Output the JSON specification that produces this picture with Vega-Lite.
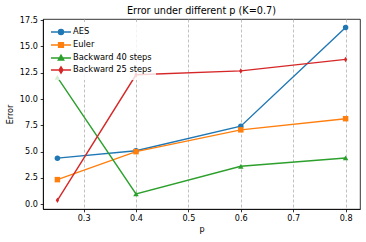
{
  "$schema": "https://vega.github.io/schema/vega-lite/v6.json",
  "autosize": "none",
  "padding": {"left": 43, "top": 19, "right": 6, "bottom": 33},
  "width": 317,
  "height": 190,
  "title": {"text": "Error under different p (K=0.7)", "fontSize": 9.7, "font": "DejaVu Sans", "fontWeight": "normal", "color": "black", "offset": 0, "frame": "group"},
  "data": {"values": [
    {"p": 0.25, "error": 4.38, "method": "AES"},
    {"p": 0.4, "error": 5.08, "method": "AES"},
    {"p": 0.6, "error": 7.42, "method": "AES"},
    {"p": 0.8, "error": 16.8, "method": "AES"},
    {"p": 0.25, "error": 2.34, "method": "Euler"},
    {"p": 0.4, "error": 5.0, "method": "Euler"},
    {"p": 0.6, "error": 7.07, "method": "Euler"},
    {"p": 0.8, "error": 8.13, "method": "Euler"},
    {"p": 0.25, "error": 12.05, "method": "Backward 40 steps"},
    {"p": 0.4, "error": 0.98, "method": "Backward 40 steps"},
    {"p": 0.6, "error": 3.61, "method": "Backward 40 steps"},
    {"p": 0.8, "error": 4.4, "method": "Backward 40 steps"},
    {"p": 0.25, "error": 0.38, "method": "Backward 25 steps"},
    {"p": 0.4, "error": 12.3, "method": "Backward 25 steps"},
    {"p": 0.6, "error": 12.67, "method": "Backward 25 steps"},
    {"p": 0.8, "error": 13.76, "method": "Backward 25 steps"}
  ]},
  "encoding": {
    "x": {"field": "p", "type": "quantitative", "title": "p",
      "scale": {"domain": [0.2225, 0.8275], "nice": false, "zero": false},
      "axis": {"values": [0.3, 0.4, 0.5, 0.6, 0.7, 0.8], "format": ".1f", "grid": true, "gridDash": [3, 2], "gridColor": "#b0b0b0", "gridWidth": 0.8, "titlePadding": 3}},
    "y": {"field": "error", "type": "quantitative", "title": "Error",
      "scale": {"domain": [-0.45, 17.6], "nice": false, "zero": false},
      "axis": {"values": [0, 2.5, 5, 7.5, 10, 12.5, 15, 17.5], "format": ".1f", "grid": false, "titlePadding": 5}}
  },
  "layer": [
    {"mark": {"type": "line", "strokeWidth": 1.4},
     "encoding": {
       "color": {"field": "method", "type": "nominal", "title": null,
         "scale": {"domain": ["AES", "Euler", "Backward 40 steps", "Backward 25 steps"], "range": ["#1f77b4", "#ff7f0e", "#2ca02c", "#d62728"]},
         "legend": {
           "orient": "top-left", "offset": 3, "padding": 4, "title": null,
           "fillColor": "rgba(255,255,255,0.8)", "cornerRadius": 2,
           "labelFont": "DejaVu Sans", "labelFontSize": 8.3, "labelColor": "black", "labelOffset": 11, "rowPadding": 1,
           "symbolSize": 100,
           "encode": {"symbols": {"update": {
             "shape": {"signal": "datum.value === 'AES' ? 'M-1,0H3M1.5,0A0.5,0.5,0,1,1,0.5,0A0.5,0.5,0,1,1,1.5,0Z' : datum.value === 'Euler' ? 'M-1,0H3M0.52,-0.48H1.48V0.48H0.52Z' : datum.value === 'Backward 40 steps' ? 'M-1,0H3M1,-0.56L1.54,0.4H0.46Z' : 'M-1,0H3M1,-0.64L1.38,0L1,0.64L0.62,0Z'"},
             "size": {"value": 100},
             "strokeWidth": {"value": 1.4},
             "fill": {"scale": "color", "field": "value"},
             "stroke": {"scale": "color", "field": "value"},
             "fillOpacity": {"value": 1},
             "strokeOpacity": {"value": 1},
             "opacity": {"value": 1}
           }}}
         }}
     }},
    {"transform": [{"filter": "datum.method === 'AES'"}],
     "mark": {"type": "point", "filled": true, "size": 30, "opacity": 1, "shape": "circle", "color": "#1f77b4"}},
    {"transform": [{"filter": "datum.method === 'Euler'"}],
     "mark": {"type": "point", "filled": true, "size": 30, "opacity": 1, "shape": "square", "color": "#ff7f0e"}},
    {"transform": [{"filter": "datum.method === 'Backward 40 steps'"}],
     "mark": {"type": "point", "filled": true, "size": 30, "opacity": 1, "shape": "triangle-up", "color": "#2ca02c"}},
    {"transform": [{"filter": "datum.method === 'Backward 25 steps'"}],
     "mark": {"type": "point", "filled": true, "size": 30, "opacity": 1, "shape": "M0,-1L0.6,0L0,1L-0.6,0Z", "color": "#d62728"}}
  ],
  "config": {
    "font": "DejaVu Sans",
    "view": {"stroke": "black", "strokeWidth": 0.8},
    "axis": {
      "labelFont": "DejaVu Sans", "labelFontSize": 8.1, "labelColor": "black",
      "titleFont": "DejaVu Sans", "titleFontSize": 8.1, "titleFontWeight": "normal", "titleColor": "black",
      "domainColor": "black", "domainWidth": 0.8, "tickColor": "black", "tickWidth": 0.8, "tickSize": 2.8, "labelPadding": 2.8
    }
  }
}
